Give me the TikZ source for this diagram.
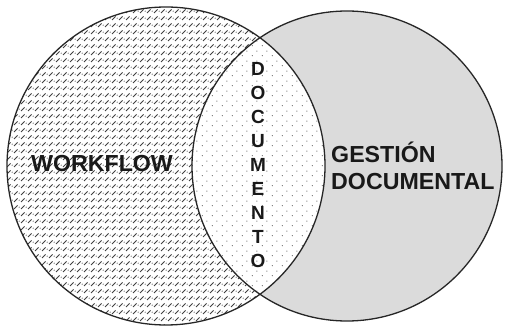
\documentclass[tikz,border=0pt]{standalone}
\usepackage{fontspec}
\setmainfont{Liberation Sans}
\usetikzlibrary{patterns}
\pgfdeclarepatternformonly{wfpat}{\pgfqpoint{-1pt}{-1pt}}{\pgfqpoint{8pt}{8pt}}{\pgfqpoint{7pt}{7pt}}{
 \pgfsetlinewidth{0.9pt}
 \pgfpathmoveto{\pgfqpoint{0pt}{0pt}}\pgfpathlineto{\pgfqpoint{3.5pt}{3.5pt}}\pgfusepath{stroke}
 \pgfpathcircle{\pgfqpoint{5.2pt}{1.8pt}}{0.55pt}\pgfusepath{fill}
}
\pgfdeclarepatternformonly{lenspat}{\pgfqpoint{0pt}{0pt}}{\pgfqpoint{10pt}{10pt}}{\pgfqpoint{10pt}{10pt}}{
 \pgfpathcircle{\pgfqpoint{2.5pt}{2.5pt}}{0.6pt}
 \pgfpathcircle{\pgfqpoint{7.5pt}{7.5pt}}{0.6pt}
 \pgfusepath{fill}
}
\begin{document}
\begin{tikzpicture}[x=1pt,y=-1pt,
  lbl/.style={font=\bfseries\fontsize{23.2}{27}\selectfont, inner sep=0pt, text=black!90},
  vl/.style={font=\bfseries\fontsize{19}{19}\selectfont, inner sep=0pt, text=black!90},
  outline/.style={line width=1.3pt, draw=black!85}]
\useasboundingbox (0,0) rectangle (505,328);
\coordinate (cl) at (166,166);
\coordinate (cr) at (347,166);
\fill[white] (cl) circle (159pt);
\fill[pattern=wfpat, pattern color=black!75] (cl) circle (159pt);
\fill[gray!28] (cr) circle (155pt);
\begin{scope}
  \clip (cl) circle (159pt);
  \fill[white] (cr) circle (155pt);
  \fill[pattern=lenspat, pattern color=black!65] (cr) circle (155pt);
\end{scope}
\draw[outline] (cl) circle (159pt) (cr) circle (155pt);
\node[lbl, anchor=base] (wf) at (102,172) {WORKFLOW};
\node[lbl, anchor=base west] (g1) at (331,163) {GESTIÓN};
\node[lbl, anchor=base west] (g2) at (331,190) {DOCUMENTAL};
\foreach \c [count=\i from 0] in {D,O,C,U,M,E,N,T,O}
  \node[vl] (d\i) at (258,69+24*\i) {\c};
\end{tikzpicture}
\end{document}
